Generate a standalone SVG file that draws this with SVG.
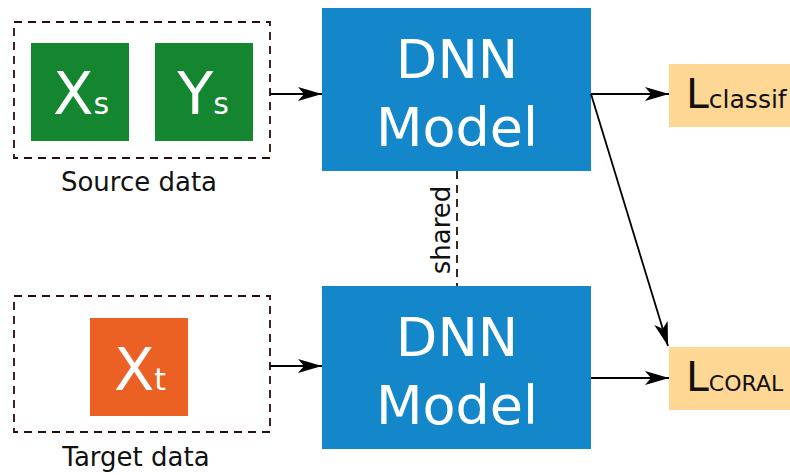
<svg xmlns="http://www.w3.org/2000/svg" width="790" height="475" viewBox="0 0 790 475">
<style>
.dash{fill:none;stroke:#2a0d0d;stroke-width:1.8;stroke-dasharray:8,6}
.dnn{fill:#1387c9}
.w{fill:#fff;font-family:"DejaVu Sans",sans-serif}
.k{fill:#111;font-family:"DejaVu Sans",sans-serif}
.ln{stroke:#000;stroke-width:1.8;fill:none}
.loss{fill:#ffd794}
</style>
<defs>
<marker id="ah" viewBox="0 0 24 14" refX="24" refY="7" markerWidth="24" markerHeight="14" markerUnits="userSpaceOnUse" orient="auto">
<path d="M0,0 L24,7 L0,14 L6,7 Z" fill="#000"/>
</marker>
</defs>
<g id="source">
<rect class="dash" x="14" y="22" width="256" height="136"/>
<text class="k" x="139" y="191" font-size="26" text-anchor="middle">Source data</text>
</g>
<g id="xs">
<rect x="31" y="43" width="98" height="98" fill="#13862f"/>
<text class="w" x="81" y="114" font-size="59" text-anchor="middle">X<tspan font-size="30">s</tspan></text>
</g>
<g id="ys">
<rect x="155" y="43" width="98" height="98" fill="#13862f"/>
<text class="w" x="203" y="114" font-size="59" text-anchor="middle">Y<tspan font-size="30">s</tspan></text>
</g>
<g id="target">
<rect class="dash" x="14" y="296" width="256" height="136"/>
<text class="k" x="136" y="466" font-size="26" text-anchor="middle">Target data</text>
</g>
<g id="xt">
<rect x="90" y="318" width="98" height="98" fill="#eb6023"/>
<text class="w" x="140" y="390" font-size="59" text-anchor="middle">X<tspan font-size="30">t</tspan></text>
</g>
<g id="dnn1">
<rect class="dnn" x="322" y="8" width="269" height="163"/>
<text class="w" x="457" y="78" font-size="54" text-anchor="middle">DNN</text>
<text class="w" x="457" y="146" font-size="54" text-anchor="middle">Model</text>
</g>
<g id="dnn2">
<rect class="dnn" x="322" y="286" width="269" height="163"/>
<text class="w" x="457" y="356" font-size="54" text-anchor="middle">DNN</text>
<text class="w" x="457" y="424" font-size="54" text-anchor="middle">Model</text>
</g>
<g id="lclassif">
<rect class="loss" x="669" y="64" width="121" height="63"/>
<text class="k" x="686" y="108" font-size="41">L<tspan font-size="25">classif</tspan></text>
</g>
<g id="lcoral">
<rect class="loss" x="669" y="347" width="121" height="63"/>
<text class="k" x="686" y="391" font-size="41">L<tspan font-size="22">CORAL</tspan></text>
</g>
<g id="connectors">
<line class="ln" x1="270" y1="94" x2="322" y2="94" marker-end="url(#ah)"/>
<line class="ln" x1="270" y1="366" x2="322" y2="366" marker-end="url(#ah)"/>
<line class="ln" x1="591" y1="94" x2="669" y2="94" marker-end="url(#ah)"/>
<line class="ln" x1="591" y1="94" x2="668" y2="346" marker-end="url(#ah)"/>
<line class="ln" x1="591" y1="378" x2="669" y2="378" marker-end="url(#ah)"/>
<line x1="457" y1="171" x2="457" y2="286" stroke="#2a0d0d" stroke-width="1.8" stroke-dasharray="8,6"/>
<text class="k" x="0" y="0" font-size="26" text-anchor="middle" transform="translate(450,230) rotate(-90)">shared</text>
</g>
</svg>
